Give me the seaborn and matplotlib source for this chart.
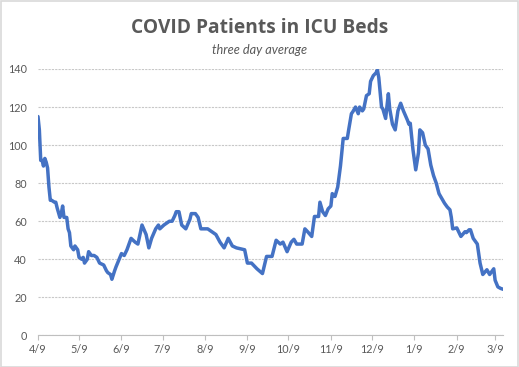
import pandas as pd
import seaborn as sns
import matplotlib.pyplot as plt

# days since 4/9/2020 and the three day average
day = [0, 1, 2, 3, 4, 5, 6, 7, 8, 9, 10, 12, 13, 14, 16, 17, 18, 19, 21, 22,
       23, 24, 26, 27, 29, 30, 32, 33, 34, 36, 37, 39, 41, 43, 45, 48, 50, 51, 53, 54,
       56, 57, 61, 63, 65, 68, 71, 73, 76, 79, 81, 83, 86, 88, 89, 92, 96, 98, 100, 101,
       103, 105, 108, 111, 112, 115, 117, 119, 124, 128, 130, 133, 136, 139, 142, 145, 151, 153, 156, 160,
       164, 167, 171, 174, 177, 179, 182, 185, 187, 189, 193, 195, 197, 200, 202, 205, 206, 208, 210, 212,
       214, 215, 217, 218, 219, 221, 223, 226, 227, 229, 230, 232, 234, 235, 237, 238, 240, 242, 243, 245,
       247, 248, 249, 251, 252, 254, 256, 257, 259, 261, 263, 265, 267, 270, 271, 272, 274, 276, 278, 279,
       281, 283, 285, 287, 289, 291, 293, 295, 297, 299, 301, 302, 303, 306, 307, 309, 312, 313, 315, 316,
       318, 321, 323, 325, 328, 330, 333, 334, 336, 338, 340]
patients = [115, 108, 92, 92, 89, 93, 91, 88, 78, 71, 71, 70, 70, 67, 62, 64, 68, 62, 62, 56,
            54, 47, 45, 47, 45, 41, 40, 41, 38, 40, 44, 42, 42, 41, 38, 37, 34, 33, 32, 29.5,
            34, 36, 43, 42, 45, 51, 49, 48, 58, 53, 46, 51, 56, 58, 56, 58, 60, 60, 63, 65,
            65, 58, 56, 61, 64, 64, 62, 56, 56, 54, 53, 49, 46, 51, 47, 46, 45, 38, 38, 35,
            32.5, 41.5, 41.5, 50, 48, 49, 44, 49, 50.5, 48, 48, 56, 54.5, 52, 62.5, 62.5, 70, 65, 63, 66.5,
            68, 74.5, 73, 75.5, 78, 89, 103.5, 103.5, 108, 116.5, 117.5, 120, 116.5, 120, 118, 119, 126, 127, 133.5, 136.5,
            138, 139.5, 135.5, 120, 119, 114, 127, 119, 111, 108, 118, 122, 118, 113, 111, 111.5, 97.5, 87, 96, 108,
            106.5, 100, 98, 89.5, 84, 80, 74.5, 72, 69.5, 67.5, 66, 62, 56, 56.5, 55, 52, 54.5, 54, 55.5, 55.5,
            51, 48, 38, 32, 34.5, 32, 35, 29, 25.5, 24.7, 24.2]

tick_dates = ["2020-04-09", "2020-05-09", "2020-06-09", "2020-07-09", "2020-08-09", "2020-09-09",
              "2020-10-09", "2020-11-09", "2020-12-09", "2021-01-09", "2021-02-09", "2021-03-09"]
y_ticks = [0, 20, 40, 60, 80, 100, 120, 140]

start = pd.Timestamp("2020-04-09")
df = pd.DataFrame({"date": start + pd.to_timedelta(day, unit="D"), "patients": patients})
ticks = pd.to_datetime(tick_dates)

sns.set_style("white")
plt.rcParams["font.family"] = ["Lato", "DejaVu Sans"]
grey = "#595959"

fig = plt.figure(figsize=(5.19, 3.67), dpi=100)
ax = fig.add_axes([0.0732, 0.0861, 0.8966, 0.7259])

sns.lineplot(data=df, x="date", y="patients", ax=ax, color="#4472C4", linewidth=2.5)

ax.set_xlim(df["date"].iloc[0], df["date"].iloc[-1])
ax.set_ylim(0, 140)
ax.set_yticks(y_ticks)
ax.set_xticks(ticks)
ax.set_xticklabels([f"{d.month}/{d.day}" for d in ticks])
ax.set_xlabel("")
ax.set_ylabel("")

ax.grid(axis="y", color="#C8C8C8", linestyle=(0, (2, 1)), linewidth=0.8)
ax.set_axisbelow(True)
for side in ["top", "right", "left"]:
    ax.spines[side].set_visible(False)
ax.spines["bottom"].set_color("#BFBFBF")
ax.spines["bottom"].set_linewidth(0.8)
ax.tick_params(axis="x", length=3.5, width=0.8, color="#BFBFBF", labelsize=7.8,
               labelcolor=grey, pad=3, bottom=True)
ax.tick_params(axis="y", length=0, labelsize=7.8, labelcolor=grey, pad=8)

fig.text(0.5, 0.925, "COVID Patients in ICU Beds", ha="center", va="center",
         fontsize=13.8, fontweight="bold", color=grey, family=["Open Sans", "DejaVu Sans"])
fig.text(0.5, 0.865, "three day average", ha="center", va="center",
         fontsize=9.2, style="italic", color=grey)

fig.patches.append(plt.Rectangle((0.001, 0.001), 0.997, 0.997, transform=fig.transFigure,
                                 fill=False, edgecolor="#D9D9D9", linewidth=1.2))

fig.savefig("out.png", dpi=100)
